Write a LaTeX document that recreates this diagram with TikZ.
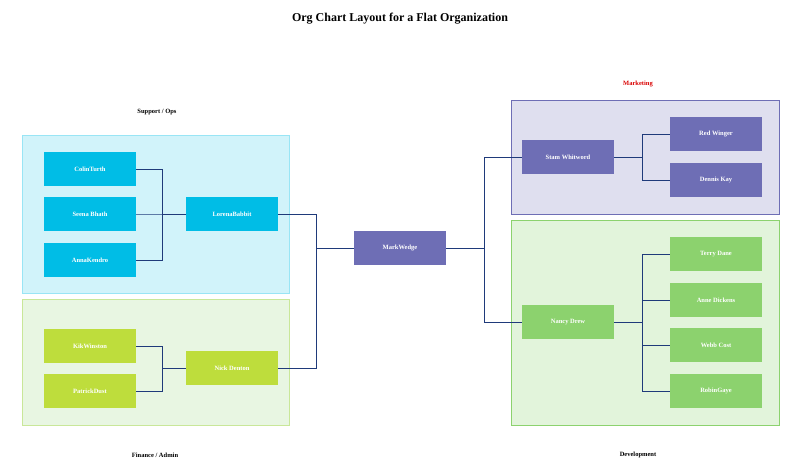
\documentclass[tikz,border=0pt]{standalone}
\usepackage{fontspec}
\setmainfont{Liberation Serif}
\usetikzlibrary{positioning}
\definecolor{opsColor}{HTML}{00BDE6}
\definecolor{finColor}{HTML}{BEDD3C}
\definecolor{mktColor}{HTML}{6E6EB5}
\definecolor{devColor}{HTML}{8CD26E}
\definecolor{linkColor}{HTML}{1F3A7A}
\tikzset{
  person/.style={rectangle, minimum width=92pt, minimum height=34pt, text=white, font=\fontsize{6.5}{8}\selectfont\bfseries},
  group/.style={line width=0.8pt},
  grouplabel/.style={font=\fontsize{6.5}{8}\selectfont\bfseries},
  link/.style={linkColor, line width=0.8pt}
}
\begin{document}
\begin{tikzpicture}[x=1pt, y=-1pt]
        \useasboundingbox (0,0) rectangle (800,476);
        % Title
        \node[font=\fontsize{12}{14}\selectfont\bfseries] (title) at (400,19) {Org Chart Layout for a Flat Organization};

        % Groups
        \draw[group, draw=opsColor!40, fill=opsColor!18] (22,135) rectangle (289,293);
        \draw[group, draw=finColor!50!devColor!60, fill=devColor!20] (22,299) rectangle (289,425);
        \draw[group, draw=mktColor, fill=mktColor!22] (511,100) rectangle (779,214);
        \draw[group, draw=devColor, fill=devColor!25] (511,220) rectangle (779,425);
        \node[grouplabel] (opsLabel) at (157,112) {Support / Ops};
        \node[grouplabel] (finLabel) at (155,455) {Finance / Admin};
        \node[grouplabel, text=red!85!black] (mktLabel) at (638,84) {Marketing};
        \node[grouplabel] (devLabel) at (638,455) {Development};

        % People
        \node[person, fill=mktColor] (mark) at (400,248) {MarkWedge};
        \node[person, fill=opsColor] (colin) at (90,169) {ColinTurth};
        \node[person, fill=opsColor] (seena) at (90,214) {Seena Bhath};
        \node[person, fill=opsColor] (anna) at (90,260) {AnnaKendro};
        \node[person, fill=opsColor] (lorena) at (232,214) {LorenaBabbit};
        \node[person, fill=finColor] (kik) at (90,346) {KikWinston};
        \node[person, fill=finColor] (patrick) at (90,391) {PatrickDust};
        \node[person, fill=finColor] (nick) at (232,368) {Nick Denton};
        \node[person, fill=mktColor] (stam) at (568,157) {Stam Whitword};
        \node[person, fill=mktColor] (red) at (716,134) {Red Winger};
        \node[person, fill=mktColor] (dennis) at (716,180) {Dennis Kay};
        \node[person, fill=devColor] (nancy) at (568,322) {Nancy Drew};
        \node[person, fill=devColor] (terry) at (716,254) {Terry Dane};
        \node[person, fill=devColor] (anne) at (716,300) {Anne Dickens};
        \node[person, fill=devColor] (webb) at (716,345) {Webb Cost};
        \node[person, fill=devColor] (robin) at (716,391) {RobinGaye};

        % Links
        \foreach \c in {colin, seena, anna}
            \draw[link] (\c.east) -- ++(26,0) |- (lorena.west);
        \foreach \c in {kik, patrick}
            \draw[link] (\c.east) -- ++(26,0) |- (nick.west);
        \foreach \c in {lorena, nick}
            \draw[link] (\c.east) -- ++(38,0) |- (mark.west);
        \foreach \c in {stam, nancy}
            \draw[link] (mark.east) -- ++(38,0) |- (\c.west);
        \foreach \c in {red, dennis}
            \draw[link] (stam.east) -- ++(28,0) |- (\c.west);
        \foreach \c in {terry, anne, webb, robin}
            \draw[link] (nancy.east) -- ++(28,0) |- (\c.west);
    \end{tikzpicture}
\end{document}
